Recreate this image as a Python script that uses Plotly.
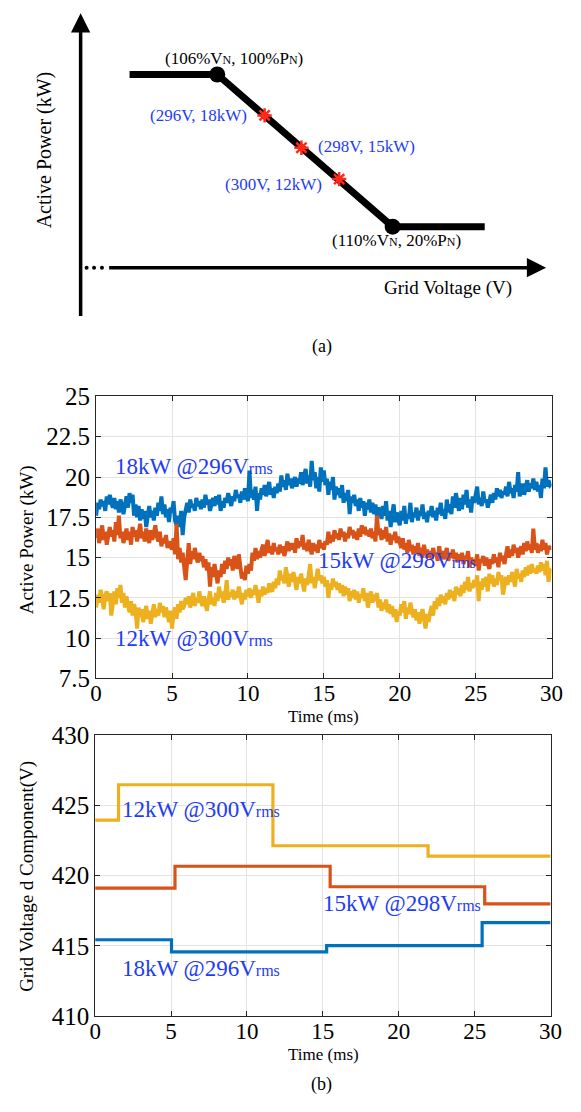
import plotly.graph_objects as go

# ---------------- Panel (a): schematic droop curve (in %VN / %PN units) ----------------
curve_v = [104.0, 106.0, 110.0, 112.1]
curve_p = [100.0, 100.0, 20.0, 20.0]
knee_v = [106.0, 110.0]
knee_p = [100.0, 20.0]
op_v = [107.08, 107.92, 108.78]
op_p = [78.5, 61.5, 45.0]
op_labels = ["(296V, 18kW)", "(298V, 15kW)", "(300V, 12kW)"]

# ---------------- Panel (b) top: active power (kW) ----------------
t_ms = [round(i * 0.1, 1) for i in range(301)]
p_18kw = [
    17.6, 18.4, 18.0, 18.6, 18.2, 18.5, 17.9, 18.8, 18.3, 18.9,
    18.4, 18.1, 18.7, 18.0, 18.5, 17.8, 18.6, 18.3, 17.7, 18.2,
    18.8, 18.1, 19.0, 18.4, 18.9, 17.6, 18.3, 17.5, 18.2, 17.3,
    18.0, 17.4, 17.9, 16.9, 17.6, 18.2, 17.5, 17.9, 17.3, 18.1,
    17.6, 18.4, 17.9, 18.8, 17.7, 18.3, 17.5, 18.0, 17.2, 18.1,
    17.8, 18.5, 17.3, 17.0, 17.6, 16.9, 17.9, 16.4, 17.5, 18.1,
    18.4, 17.8, 18.6, 18.1, 18.3, 17.9, 18.7, 18.2, 18.5, 18.0,
    18.6, 18.1, 18.9, 18.3, 18.6, 17.9, 18.4, 18.7, 18.2, 18.8,
    18.3, 18.9, 17.9, 18.5, 18.1, 18.7, 18.4, 19.0, 18.6, 18.2,
    18.8, 18.5, 19.2, 18.7, 18.9, 18.4, 19.1, 18.6, 19.3, 18.8,
    18.5, 20.4, 18.7, 19.2, 18.6, 19.4, 17.9, 19.0, 18.6, 19.3,
    18.9, 19.5, 18.8, 19.2, 19.7, 18.9, 19.3, 18.7, 19.4, 19.0,
    19.6, 19.1, 20.1, 19.4, 19.8, 19.2, 20.2, 19.5, 19.9, 19.3,
    19.7, 20.0, 19.4, 19.9, 19.6, 20.3, 19.5, 19.9, 20.5, 19.6,
    20.1, 19.4, 21.0, 19.8, 20.3, 19.3, 20.0, 19.1, 20.6, 19.7,
    20.4, 19.5, 19.9, 18.9, 19.7, 19.2, 20.0, 18.6, 19.4, 18.9,
    19.3, 18.7, 19.5, 18.4, 19.0, 18.5, 19.2, 17.7, 18.8, 18.4,
    18.9, 18.2, 18.6, 17.9, 18.7, 18.1, 18.5, 17.6, 18.4, 18.0,
    18.6, 17.8, 18.4, 17.7, 18.3, 17.5, 18.1, 17.9, 17.4, 18.2,
    17.6, 18.5, 17.3, 17.9, 16.9, 17.7, 18.3, 17.2, 17.8, 17.4,
    17.0, 17.9, 17.3, 18.2, 17.1, 17.7, 17.4, 18.4, 17.2, 17.8,
    17.5, 18.1, 17.3, 17.9, 17.6, 18.3, 17.4, 17.8, 17.2, 17.9,
    17.6, 18.2, 17.5, 17.9, 17.3, 18.1, 17.7, 18.4, 17.6, 18.0,
    17.4, 18.6, 17.8, 18.3, 17.7, 18.8, 18.1, 19.0, 18.2, 17.9,
    18.7, 18.0, 18.9, 18.3, 19.2, 18.1, 18.6, 17.8, 18.8, 18.4,
    18.9, 19.4, 18.3, 18.7, 18.2, 19.1, 18.4, 18.6, 18.1, 18.5,
    18.9, 18.4, 19.0, 18.6, 19.3, 18.8, 19.2, 18.7, 19.1, 18.9,
    19.4, 18.8, 19.7, 19.0, 19.3, 18.7, 19.5, 19.1, 20.3, 18.8,
    19.2, 19.6, 18.9, 19.4, 19.8, 19.1, 19.6, 19.3, 19.9, 19.2,
    19.7, 19.1, 19.5, 18.7, 19.9, 19.3, 20.6, 19.4, 19.8, 19.5,
    19.6,
]
p_15kw = [
    16.2, 16.8, 15.9, 16.5, 17.0, 16.1, 16.6, 15.8, 16.4, 16.9,
    16.3, 16.7, 16.0, 17.2, 16.4, 17.6, 16.2, 16.6, 15.9, 16.5,
    16.8, 16.1, 16.6, 15.8, 16.9, 16.3, 16.7, 16.0, 16.5, 17.1,
    16.2, 16.6, 16.0, 16.8, 16.3, 15.9, 16.7, 16.1, 16.5, 17.0,
    16.3, 16.0, 16.6, 15.7, 16.2, 15.9, 16.4, 15.6, 16.0, 15.8,
    15.5, 16.2, 15.2, 17.1, 14.9, 15.6, 14.7, 15.3, 14.3, 13.6,
    14.8, 15.9, 14.6, 15.4, 14.9, 15.6, 15.0, 14.7, 15.3, 14.8,
    15.1, 14.4, 14.9, 14.2, 14.7, 13.2, 14.4, 13.8, 14.6, 14.1,
    13.4, 14.2, 13.8, 14.6, 14.0, 14.8, 14.3, 15.0, 14.5, 14.9,
    14.2, 15.1, 14.7, 14.3, 15.2, 14.4, 13.7, 14.1, 13.6, 14.5,
    14.0, 14.6, 14.2, 15.3, 14.8, 15.6, 14.9, 15.4, 15.0, 15.5,
    15.8, 15.1, 15.6, 16.1, 15.3, 15.7, 15.2, 15.9, 15.4, 15.6,
    15.2, 15.8, 15.3, 15.7, 15.1, 15.6, 16.0, 15.4, 15.9, 15.5,
    15.9, 15.3, 16.2, 15.6, 16.0, 15.7, 16.4, 15.5, 15.9, 15.4,
    16.1, 15.6, 15.2, 15.9, 15.4, 15.8, 15.3, 16.1, 15.6, 15.9,
    15.5, 16.0, 15.8, 16.6, 15.9, 16.4, 16.0, 16.7, 16.2, 16.5,
    16.1, 16.8, 16.3, 16.6, 16.0, 16.5, 16.2, 16.9, 16.4, 16.7,
    16.2, 16.6, 16.1, 16.8, 16.3, 17.0, 16.5, 16.9, 16.4, 16.7,
    16.3, 16.8, 16.2, 16.6, 16.0, 17.6, 16.4, 16.8, 16.1, 16.7,
    16.2, 16.9, 16.0, 16.5, 15.8, 16.4, 16.1, 16.6, 15.9, 16.3,
    16.0, 15.6, 16.2, 15.5, 15.9, 15.3, 16.1, 15.4, 15.8, 15.2,
    15.7, 15.3, 15.9, 15.1, 15.6, 15.0, 15.8, 15.2, 15.5, 15.0,
    15.4, 14.9, 15.6, 15.1, 15.3, 14.8, 15.7, 15.0, 15.4, 14.9,
    15.2, 15.6, 14.8, 15.3, 15.0, 15.5, 14.9, 15.3, 14.7, 15.2,
    14.8, 15.3, 14.6, 15.1, 14.9, 15.4, 14.4, 15.0, 14.6, 14.9,
    14.5, 15.2, 14.2, 14.9, 14.7, 15.1, 14.5, 15.0, 14.6, 14.3,
    14.9, 14.6, 15.2, 14.7, 15.0, 14.4, 15.3, 14.8, 15.1, 14.6,
    15.2, 15.7, 15.0, 15.5, 15.1, 15.8, 15.3, 15.6, 15.0, 15.4,
    15.7, 15.2, 15.9, 15.4, 16.0, 15.5, 15.8, 15.3, 16.8, 15.5,
    15.9, 15.3, 15.8, 15.4, 16.1, 15.5, 15.9, 15.2, 15.7, 15.6,
    15.6,
]
p_12kw = [
    11.9, 12.7, 12.2, 13.0, 12.5, 11.8, 12.6, 12.9, 12.3, 12.8,
    11.4, 12.4, 12.9, 12.1, 13.1, 12.5, 13.3, 12.2, 12.8, 11.9,
    12.6, 12.0, 11.6, 12.3, 11.4, 12.1, 11.7, 10.6, 11.9, 11.3,
    11.8, 11.0, 11.6, 12.0, 11.2, 11.7, 10.9, 11.5, 12.1, 11.3,
    11.8, 11.4, 12.2, 11.6, 12.0, 11.3, 11.9, 11.5, 11.0, 11.7,
    10.6, 11.5, 11.9, 11.2, 12.1, 11.6, 12.3, 11.8, 12.0, 12.5,
    12.1, 12.6, 11.9, 12.4, 12.8, 12.0, 12.5, 12.2, 12.9, 12.3,
    12.0, 12.6, 12.2, 11.7, 12.4, 12.9, 12.1, 12.5, 12.0, 12.8,
    12.3, 13.2, 12.5, 12.9, 12.2, 12.7, 13.6, 12.4, 12.8, 12.6,
    13.0, 12.4, 12.9, 12.5, 13.2, 12.6, 12.1, 12.8, 12.4, 13.0,
    12.6, 13.1, 12.5, 13.0, 12.7, 13.3, 12.8, 12.2, 13.0, 12.6,
    13.2, 12.7, 13.1, 12.8, 13.4, 13.0, 12.9, 13.5, 13.1, 13.7,
    13.3, 14.2, 13.6, 13.9, 13.4, 14.4, 13.8, 13.2, 14.0, 13.5,
    14.1, 13.6, 13.0, 13.8, 13.4, 14.0, 13.5, 12.9, 13.7, 13.3,
    13.9, 14.6, 13.4, 13.8, 13.1, 13.7, 14.3, 13.6, 13.9, 13.4,
    13.8, 13.2, 13.6, 12.5, 13.4, 13.0, 13.7, 13.2, 13.5, 13.0,
    13.4, 12.8, 13.3, 12.6, 13.2, 12.7, 13.1, 12.3, 12.9, 12.5,
    13.0, 12.4, 12.9, 12.2, 12.7, 12.5, 13.1, 12.3, 12.8, 11.9,
    12.5, 12.9, 12.2, 12.7, 12.3, 12.8, 11.9, 12.4, 11.7, 12.2,
    11.8, 12.4, 11.6, 12.1, 11.5, 12.0, 11.3, 11.8, 11.0, 11.7,
    11.4, 12.1, 11.6, 12.3, 11.2, 11.9, 11.5, 12.2, 11.7, 11.3,
    11.8, 11.1, 11.6, 10.9, 11.4, 11.8, 11.2, 10.6, 11.5, 11.0,
    11.6, 12.0, 11.4, 12.3, 11.8, 12.5, 12.0, 12.7, 12.2, 12.6,
    12.1, 12.8, 12.4, 13.0, 12.5, 12.9, 12.3, 13.2, 12.7, 13.1,
    12.6, 13.3, 12.8, 13.5, 13.0, 13.8, 12.9, 13.4, 13.1, 13.6,
    13.2, 13.9, 12.3, 13.5, 13.0, 13.7, 13.2, 13.8, 12.9, 14.0,
    13.4, 13.9, 13.2, 13.7, 13.3, 14.1, 13.6, 13.9, 12.7, 13.5,
    13.8, 13.3, 13.9, 13.5, 14.1, 13.6, 13.2, 14.3, 13.7, 14.0,
    13.5, 14.2, 13.8, 14.4, 13.9, 14.5, 14.0, 14.6, 14.1, 14.3,
    14.0, 14.5, 14.1, 14.7, 14.2, 14.6, 13.9, 14.8, 13.5, 14.2,
    14.3,
]

# ---------------- Panel (b) bottom: grid voltage d component (V) ----------------
vd_12kw_t = [0, 1.54, 11.71, 21.93, 30]
vd_12kw_v = [423.94, 426.46, 422.12, 421.38, 421.38]
vd_15kw_t = [0, 5.26, 15.48, 25.66, 30]
vd_15kw_v = [419.11, 420.66, 419.2, 417.98, 417.98]
vd_18kw_t = [0, 5.03, 15.25, 25.49, 30]
vd_18kw_v = [415.43, 414.57, 415.01, 416.65, 416.65]

p_yticks = [7.5, 10, 12.5, 15, 17.5, 20, 22.5, 25]
p_yticktext = ["7.5", "10", "12.5", "15", "17.5", "20", "22.5", "25"]
v_yticks = [410, 415, 420, 425, 430]
t_ticks = [0, 5, 10, 15, 20, 25, 30]

C_BLUE = "#0072BD"
C_ORANGE = "#D95319"
C_YELLOW = "#EDB120"
TXT_BLUE = "#1f3cf5"
FONT = "Times New Roman, Liberation Serif, DejaVu Serif, serif"

W, H = 581, 1112
fig = go.Figure()

# ---- schematic traces ----
fig.add_trace(go.Scatter(x=curve_v, y=curve_p, mode="lines",
                         line=dict(color="black", width=7), xaxis="x3", yaxis="y3",
                         showlegend=False, hoverinfo="skip"))
fig.add_trace(go.Scatter(x=knee_v, y=knee_p, mode="markers",
                         marker=dict(color="black", size=16), xaxis="x3", yaxis="y3",
                         showlegend=False, hoverinfo="skip"))
fig.add_trace(go.Scatter(x=op_v, y=op_p, mode="markers",
                         marker=dict(symbol="asterisk-open", size=12, color="#ff2a1a",
                                     line=dict(color="#ff2a1a", width=2.5)),
                         xaxis="x3", yaxis="y3", showlegend=False, hoverinfo="skip"))

# ---- power traces ----
for ys, col in [(p_18kw, C_BLUE), (p_15kw, C_ORANGE), (p_12kw, C_YELLOW)]:
    fig.add_trace(go.Scatter(x=t_ms, y=ys, mode="lines", line=dict(color=col, width=4),
                             xaxis="x", yaxis="y", showlegend=False))

# ---- voltage traces ----
for xs, ys, col in [(vd_12kw_t, vd_12kw_v, C_YELLOW), (vd_15kw_t, vd_15kw_v, C_ORANGE),
                    (vd_18kw_t, vd_18kw_v, C_BLUE)]:
    fig.add_trace(go.Scatter(x=xs, y=ys, mode="lines", line=dict(color=col, width=3.2, shape="hv"),
                             xaxis="x2", yaxis="y2", showlegend=False))

# ---- axes ----
def px_x(p):
    return p / W

def px_y(p):
    return 1 - p / H

common = dict(showline=True, linecolor="#262626", linewidth=1, mirror="ticks",
              ticks="inside", ticklen=5, tickcolor="#262626", showgrid=True,
              gridcolor="#e3e3e3", gridwidth=1, zeroline=False)
yfont = dict(family=FONT, size=25, color="black")
xfont = dict(family=FONT, size=23, color="black")

fig.update_layout(
    width=W, height=H, margin=dict(l=0, r=0, t=0, b=0),
    paper_bgcolor="white", plot_bgcolor="white",
    font=dict(family=FONT),
    xaxis=dict(domain=[px_x(93), px_x(563)], range=[0, 30], tickvals=t_ticks,
               anchor="y", ticklabelstandoff=-6, tickfont=xfont, **common),
    yaxis=dict(domain=[px_y(682), px_y(393)], range=[7.5, 25], tickvals=p_yticks,
               ticktext=p_yticktext, anchor="x", tickfont=yfont, **common),
    xaxis2=dict(domain=[px_x(92), px_x(562)], range=[0, 30], tickvals=t_ticks,
                anchor="y2", ticklabelstandoff=-6, tickfont=xfont, **common),
    yaxis2=dict(domain=[px_y(1028), px_y(740)], range=[410, 430], tickvals=v_yticks,
                anchor="x2", tickfont=yfont, **common),
    xaxis3=dict(domain=[0, 1], range=[101.182, 114.022], visible=False, anchor="y3",
                fixedrange=True),
    yaxis3=dict(domain=[px_y(320), 1], range=[-31.79, 132.31], visible=False, anchor="x3",
                fixedrange=True),
)

ann = []
# schematic axes arrows
ann.append(dict(x=102.884, y=132.2, ax=102.884, ay=-27.7, xref="x3", yref="y3",
                axref="x3", ayref="y3", showarrow=True, arrowhead=2, arrowsize=1.1,
                arrowwidth=3.5, arrowcolor="black", text=""))
ann.append(dict(x=113.5, y=-1.54, ax=103.5, ay=-1.54, xref="x3", yref="y3",
                axref="x3", ayref="y3", showarrow=True, arrowhead=2, arrowsize=1.1,
                arrowwidth=3.5, arrowcolor="black", text=""))
fig.add_trace(go.Scatter(x=[103.02, 103.19, 103.37], y=[-1.54] * 3, mode="markers",
                         marker=dict(color="black", size=4), xaxis="x3", yaxis="y3",
                         showlegend=False, hoverinfo="skip"))

sm = "<span style='font-size:12px'>N</span>"
ann.append(dict(x=knee_v[0] + 0.38, y=knee_p[0] + 8.5, xref="x3", yref="y3", showarrow=False,
                xanchor="center", yanchor="middle",
                text=f"(106%V{sm}, 100%P{sm})", font=dict(family=FONT, size=17, color="black")))
ann.append(dict(x=knee_v[1] + 0.09, y=knee_p[1] - 7.5, xref="x3", yref="y3", showarrow=False,
                xanchor="center", yanchor="middle",
                text=f"(110%V{sm}, 20%P{sm})", font=dict(family=FONT, size=17, color="black")))
op_offsets = [(-0.35, 0.0, "right"), (0.33, 0.5, "left"), (-0.35, -3.0, "right")]
for v, p, lab, (dx, dy, anc) in zip(op_v, op_p, op_labels, op_offsets):
    ann.append(dict(x=v + dx, y=p + dy, xref="x3", yref="y3", showarrow=False, xanchor=anc,
                    yanchor="middle", text=lab, font=dict(family=FONT, size=17, color=TXT_BLUE)))


def paper_text(txt, xp, yp, size, angle=0):
    return dict(x=px_x(xp), y=px_y(yp), xref="paper", yref="paper", showarrow=False,
                xanchor="center", yanchor="middle", textangle=angle, text=txt,
                font=dict(family=FONT, size=size, color="black"))


ann.append(paper_text("Grid Voltage (V)", 456, 282, 19))
ann.append(paper_text("Active Power (kW)", 40, 140, 20, -90))
ann.append(paper_text("(a)", 326, 342, 18))
ann.append(paper_text("Active Power (kW)", 22, 540, 19, -90))
ann.append(paper_text("Time (ms)", 328, 721, 17))
ann.append(paper_text("Grid Voltage d Component(V)", 21, 885, 19, -90))
ann.append(paper_text("Time (ms)", 328, 1067, 17))
ann.append(paper_text("(b)", 326, 1098, 18))

rms = "<span style='font-size:16px'>rms</span>"
labels_p = [("18kW @296V", 1.14, 20.66, "x", "y"), ("15kW @298V", 14.5, 14.81, "x", "y"),
            ("12kW @300V", 1.14, 9.96, "x", "y"),
            ("12kW @300V", 1.61, 424.68, "x2", "y2"), ("15kW @298V", 14.89, 418.02, "x2", "y2"),
            ("18kW @296V", 1.61, 413.4, "x2", "y2")]
for txt, xx, yy, xr, yr in labels_p:
    ann.append(dict(x=xx, y=yy, xref=xr, yref=yr, showarrow=False, xanchor="left",
                    yanchor="middle", text=txt + rms,
                    font=dict(family=FONT, size=23, color=TXT_BLUE)))

fig.update_layout(annotations=ann)
fig.write_html("out.html")
